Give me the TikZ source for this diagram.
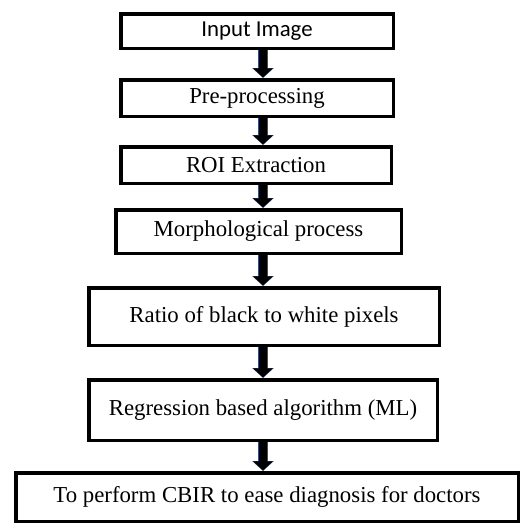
\documentclass[tikz,border=0pt]{standalone}
\usepackage{fontspec}
\setmainfont{Liberation Serif}
\newfontfamily\calibrilike{Carlito}
\usetikzlibrary{arrows.meta}

\definecolor{arrowedge}{RGB}{47,82,143}

\tikzset{
  stepbox/.style={draw=black, line width=3.5pt, fill=white, inner sep=0pt,
    font=\fontsize{22.8}{26}\selectfont},
  blockarrowedge/.style={line width=9.4pt, draw=arrowedge,
    -{Triangle[width=21pt,length=10pt]}},
  blockarrow/.style={line width=8pt, draw=black,
    -{Triangle[width=19pt,length=9pt]}, shorten >=0.6pt}
}

\begin{document}
\begin{tikzpicture}[x=1pt,y=-1pt]
  \useasboundingbox (0,0) rectangle (525,525);
  \fill[white] (0,0) rectangle (525,525);

  % processing stages
  \node[stepbox, minimum width=272.5pt, minimum height=34.5pt,
        font=\fontsize{22.8}{26}\calibrilike] (input) at (257,31) {Input Image};
  \node[stepbox, minimum width=272.5pt, minimum height=36.5pt] (pre) at (257,98) {Pre-processing};
  \node[stepbox, minimum width=270.5pt, minimum height=36.5pt] (roi) at (256,165) {ROI Extraction};
  \node[stepbox, minimum width=285.5pt, minimum height=43.5pt] (morph) at (258.5,231.5) {Morphological process};
  \node[stepbox, minimum width=350.5pt, minimum height=57.5pt] (ratio) at (264,316.5) {Ratio of black to white pixels};
  \node[stepbox, minimum width=348.5pt, minimum height=60.5pt] (regr) at (263,410) {Regression based algorithm (ML)};
  \node[stepbox, minimum width=502.5pt, minimum height=48.5pt] (cbir) at (267,497) {To perform CBIR to ease diagnosis for doctors};

  % vertical axis of the flow arrows
  \coordinate (ax) at (263,0);

  % block arrows: thin blue edge under a black body
  \foreach \from/\to in {input/pre, pre/roi, roi/morph, morph/ratio, ratio/regr, regr/cbir}{
    \draw[blockarrowedge] (\from.south -| ax) -- (\to.north -| ax);
    \draw[blockarrow] (\from.south -| ax) -- (\to.north -| ax);
  }
\end{tikzpicture}
\end{document}
